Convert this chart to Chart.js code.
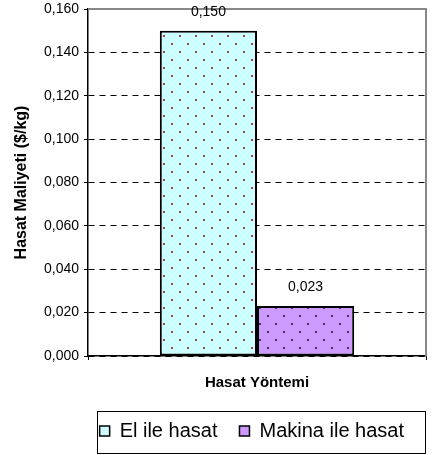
<!DOCTYPE html>
<html>
<head>
<meta charset="utf-8">
<script src="https://cdn.jsdelivr.net/npm/chart.js@4.4.1/dist/chart.umd.min.js"></script>
<style>
  html, body { margin: 0; padding: 0; background: #fff; }
</style>
</head>
<body>
<canvas id="costChart" width="437" height="455"></canvas>
<script>
// data
const methods = ["El ile hasat", "Makina ile hasat"];
const costs = [0.150, 0.023];
const yMin = 0;
const yMax = 0.16;
const yStep = 0.02;

const FONT = '"Liberation Sans", Arial, sans-serif';
const fillColors = ["#ccffff", "#cc99ff"];
const dotColors = ["#a8404c", "#44335f"];

function fmt(v) {
    return v.toFixed(3).replace(".", ",");
}

// dotted fill like the excel pattern
function dotPattern(bg, dot) {
    const c = document.createElement("canvas");
    c.width = 16;
    c.height = 16;
    const g = c.getContext("2d");
    g.fillStyle = bg;
    g.fillRect(0, 0, 16, 16);
    g.fillStyle = dot;
    g.fillRect(3, 3, 2, 2);
    g.fillRect(11, 11, 2, 2);
    return g.createPattern(c, "repeat");
}

const framePlugin = {
    id: "frame",
    beforeDatasetsDraw(chart) {
        const { ctx, chartArea: a } = chart;
        ctx.save();
        ctx.strokeStyle = "#888";
        ctx.lineWidth = 2;
        ctx.beginPath();
        ctx.moveTo(a.left, a.top);
        ctx.lineTo(a.right, a.top);
        ctx.lineTo(a.right, a.bottom);
        ctx.stroke();
        ctx.restore();
    },
    afterDatasetsDraw(chart) {
        const ctx = chart.ctx;
        ctx.save();
        ctx.font = "14px " + FONT;
        ctx.fillStyle = "#000";
        ctx.textAlign = "center";
        ctx.textBaseline = "bottom";
        chart.data.datasets.forEach((ds, i) => {
            const el = chart.getDatasetMeta(i).data[0];
            ctx.fillText(fmt(ds.data[0]), el.x, el.y - 12);
        });
        ctx.restore();
    },
    afterDraw(chart) {
        // box round the legend
        const boxes = chart.legend.legendHitBoxes;
        if (!boxes || !boxes.length) return;
        const left = Math.min(...boxes.map(b => b.left)) - 3;
        const right = Math.max(...boxes.map(b => b.left + b.width)) + 21;
        const top = boxes[0].top - 10;
        const bottom = boxes[0].top + boxes[0].height + 12;
        const ctx = chart.ctx;
        ctx.save();
        ctx.strokeStyle = "#000";
        ctx.lineWidth = 1;
        ctx.strokeRect(Math.round(left) + 0.5, Math.round(top) + 0.5, Math.round(right - left), Math.round(bottom - top));
        ctx.restore();
    }
};

const ctx = document.getElementById("costChart").getContext("2d");

new Chart(ctx, {
    type: "bar",
    data: {
        labels: [""],
        datasets: methods.map((m, i) => ({
            label: m,
            data: [costs[i]],
            backgroundColor: dotPattern(fillColors[i], dotColors[i]),
            borderColor: "#000",
            borderWidth: 2,
            borderSkipped: false,
            categoryPercentage: 0.575,
            barPercentage: 1
        }))
    },
    options: {
        responsive: false,
        animation: false,
        layout: { padding: { left: 0, right: 11, top: 9, bottom: 4 } },
        plugins: {
            tooltip: { enabled: false },
            legend: {
                position: "bottom",
                align: "end",
                labels: {
                    font: { family: FONT, size: 20 },
                    color: "#000",
                    boxWidth: 10,
                    boxHeight: 10,
                    padding: 22,
                    generateLabels: chart => methods.map((m, i) => ({
                        text: m,
                        fillStyle: fillColors[i],
                        strokeStyle: "#000",
                        lineWidth: 1.5,
                        datasetIndex: i,
                        hidden: false
                    }))
                }
            }
        },
        scales: {
            x: {
                afterFit: s => { s.height = 43; },
                grid: {
                    display: true,
                    drawOnChartArea: false,
                    offset: true,
                    tickLength: 4,
                    tickColor: "#000"
                },
                border: { display: true, color: "#000", width: 1.5 },
                ticks: { display: false },
                title: {
                    display: true,
                    text: "Hasat Yöntemi",
                    color: "#000",
                    font: { family: FONT, size: 15, weight: "bold" },
                    padding: { top: 0, bottom: 7 }
                }
            },
            y: {
                min: yMin,
                max: yMax,
                afterFit: s => {
                    s.width = 88;
                    s.paddingTop = 0;
                    s.paddingBottom = 0;
                },
                ticks: {
                    stepSize: yStep,
                    color: "#000",
                    padding: 5,
                    font: { family: FONT, size: 14 },
                    callback: v => fmt(v)
                },
                grid: {
                    color: c => (c.tick && c.tick.value > yMax - 1e-9) ? "rgba(0,0,0,0)" : "#000",
                    lineWidth: 1,
                    tickLength: 4,
                    tickColor: "#000",
                    tickBorderDash: []
                },
                border: { display: true, color: "#000", width: 1.5, dash: [6, 5] },
                title: {
                    display: true,
                    text: "Hasat Maliyeti ($/kg)",
                    color: "#000",
                    font: { family: FONT, size: 16, weight: "bold" },
                    padding: { top: 12, bottom: 0 }
                }
            }
        }
    },
    plugins: [framePlugin]
});
</script>
</body>
</html>
